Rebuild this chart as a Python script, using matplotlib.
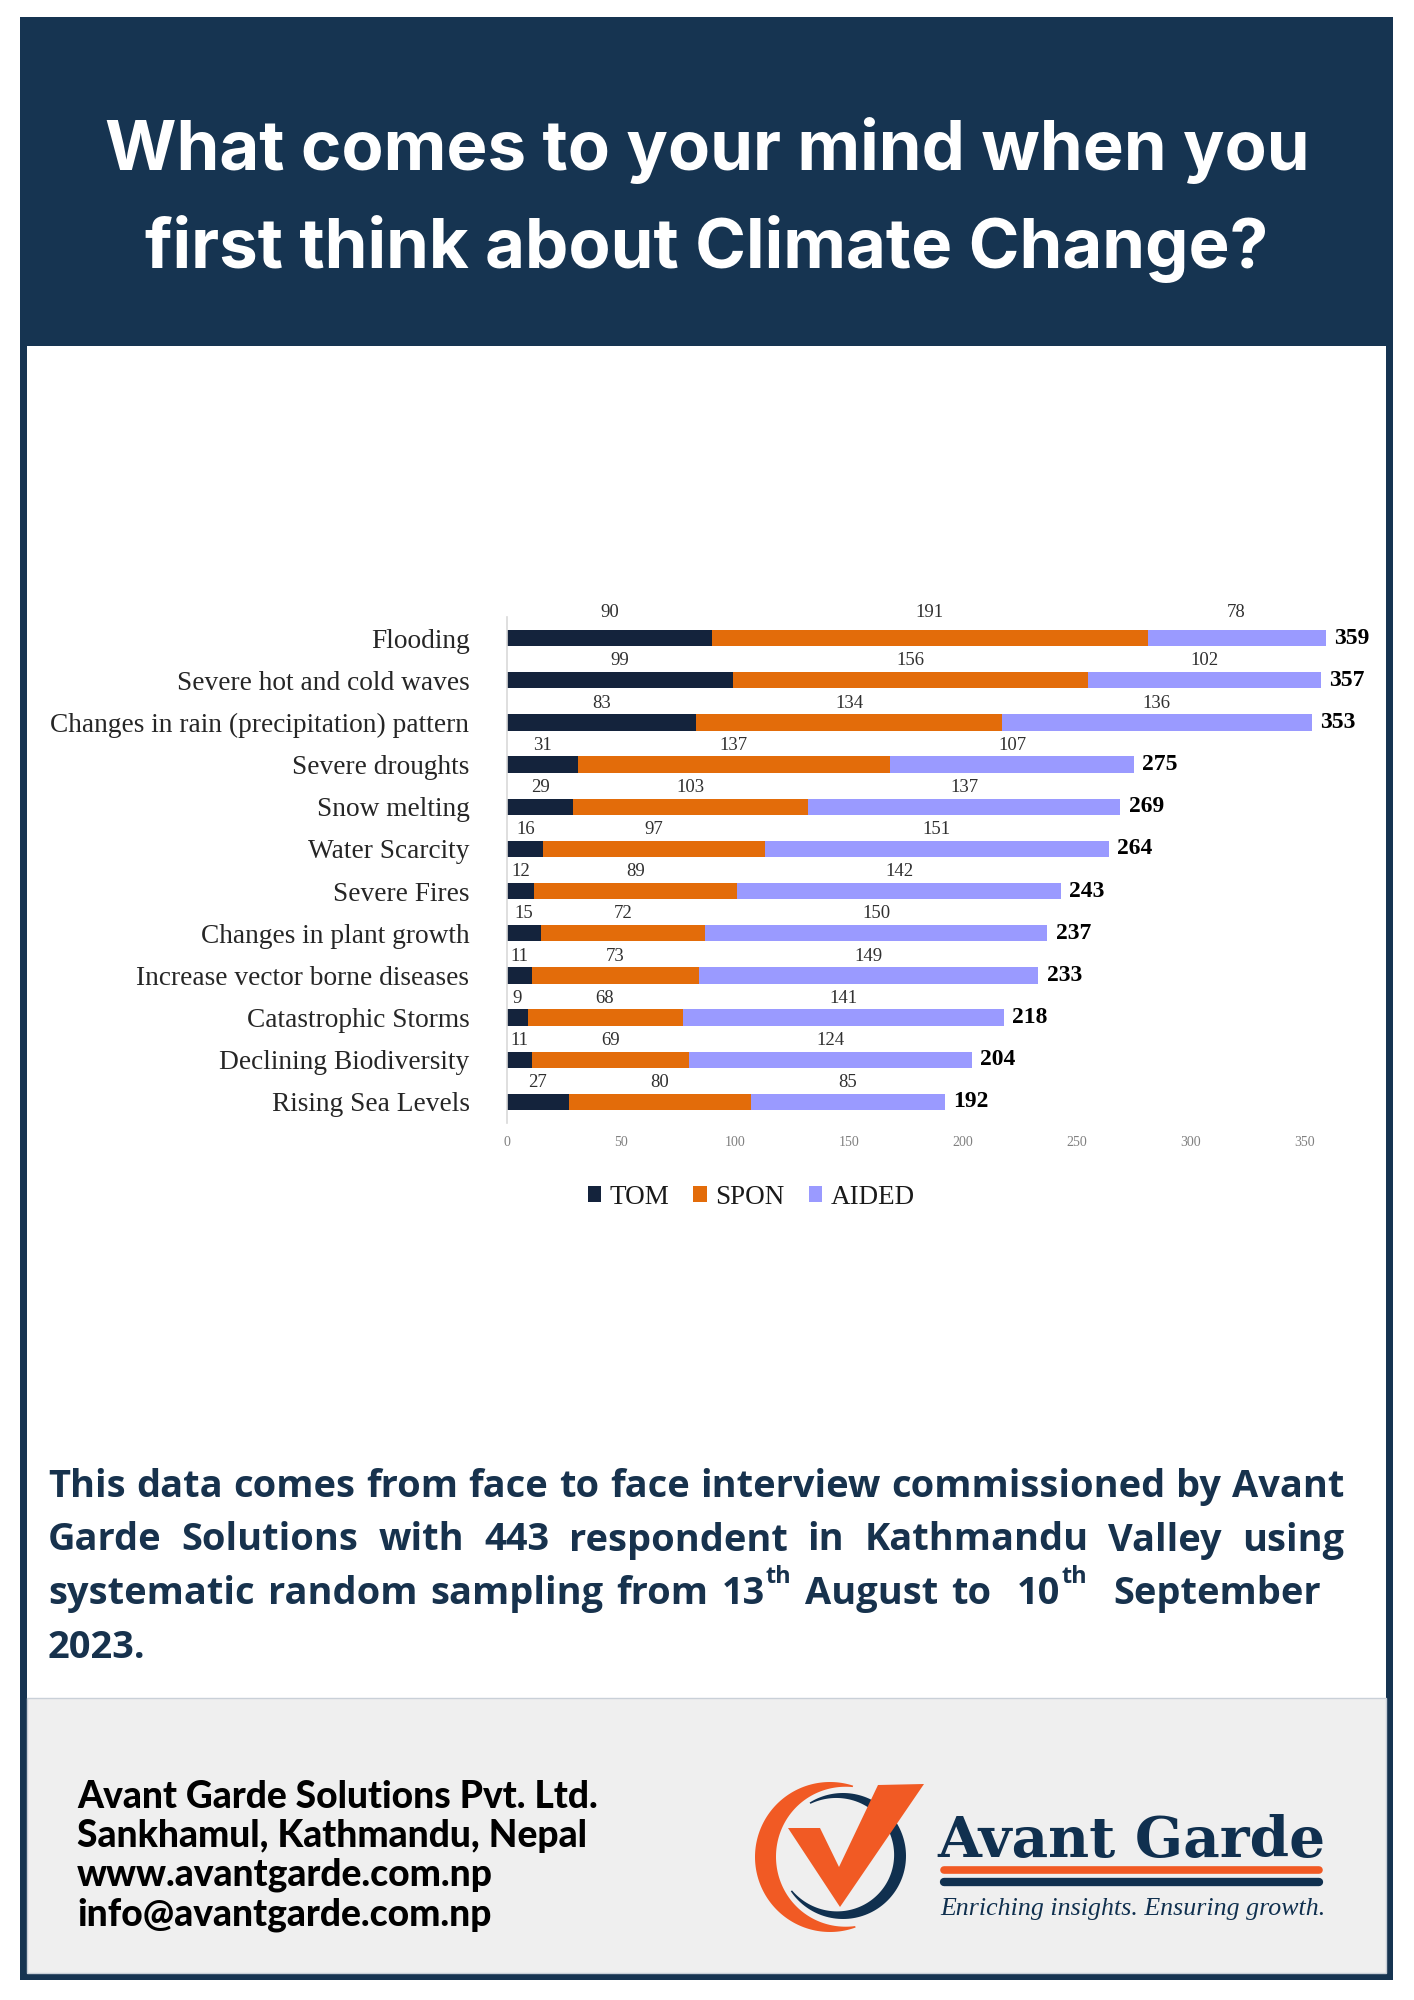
import matplotlib
matplotlib.use("Agg")
import matplotlib.pyplot as plt
import numpy as np
from matplotlib.patches import Rectangle, Polygon, Patch
from matplotlib.lines import Line2D

# ---------------- data ----------------
categories = ["Flooding", "Severe hot and cold waves",
              "Changes in rain (precipitation) pattern", "Severe droughts",
              "Snow melting", "Water Scarcity", "Severe Fires",
              "Changes in plant growth", "Increase vector borne diseases",
              "Catastrophic Storms", "Declining Biodiversity", "Rising Sea Levels"]
tom = [90, 99, 83, 31, 29, 16, 12, 15, 11, 9, 11, 27]
spon = [191, 156, 134, 137, 103, 97, 89, 72, 73, 68, 69, 80]
aided = [78, 102, 136, 107, 137, 151, 142, 150, 149, 141, 124, 85]
totals = [359, 357, 353, 275, 269, 264, 243, 237, 233, 218, 204, 192]
series_names = ["TOM", "SPON", "AIDED"]
xticks = [0, 50, 100, 150, 200, 250, 300, 350]

title_lines = ["What comes to your mind when you", "first think about Climate Change?"]
footer_lines = ["Avant Garde Solutions Pvt. Ltd.", "Sankhamul, Kathmandu, Nepal",
                "www.avantgarde.com.np", "info@avantgarde.com.np"]

# ---------------- styles ----------------
NAVY = "#163451"
C_TOM = "#14233c"
C_SPON = "#e36c0a"
C_AIDED = "#9a9aff"
LOGO_OR = "#f15a24"
LOGO_NV = "#10304f"
SERIF = "Liberation Serif"

W, H = 1414, 2000
fig = plt.figure(figsize=(W / 100, H / 100), dpi=100)
fig.patch.set_facecolor("white")
r = fig.canvas.get_renderer()

# background axes in pixel coordinates
bg = fig.add_axes([0, 0, 1, 1])
bg.set_xlim(0, W)
bg.set_ylim(H, 0)
bg.axis("off")

# frame
bg.add_patch(Rectangle((20, 17), 1373, 1963, facecolor=NAVY, edgecolor="none"))
bg.add_patch(Rectangle((27, 346), 1359, 1628, facecolor="white", edgecolor="none"))
bg.add_patch(Rectangle((27, 1698), 1359, 275, facecolor="#efefef", edgecolor="#c9d0d8", lw=1))


def fit_width(t, target):
    w = t.get_window_extent(r).width
    t.set_fontsize(t.get_fontsize() * target / w)


# title
tw = []
for line, yb in zip(title_lines, [170, 268]):
    tw.append(bg.text(707, yb, line, ha="center", va="baseline", color="white",
                      fontsize=48, fontweight="bold", family="Inter"))
fit_width(tw[0], 1204)
tw[1].set_fontsize(tw[0].get_fontsize())

# ---------------- chart ----------------
px_per_unit = 2.28
x0_px, ytop_px, ybot_px = 507, 617, 1123
xmax = 370
ax = fig.add_axes([x0_px / W, 1 - ybot_px / H, xmax * px_per_unit / W, (ybot_px - ytop_px) / H])
y = np.arange(len(categories))
bh = 0.39
left = np.zeros(len(categories))
colors = [C_TOM, C_SPON, C_AIDED]
for vals, c, name in zip([tom, spon, aided], colors, series_names):
    ax.barh(y, vals, left=left, height=bh, color=c, label=name, zorder=2)
    for yi, (l, v) in enumerate(zip(left, vals)):
        off = 0.6 if yi == 0 else 0.46
        ax.text(l + v / 2, yi - off, str(v), ha="center", va="center",
                fontsize=13.5, family=SERIF, color="#303030")
    left = left + np.array(vals)
for yi, (l, tot) in enumerate(zip(left, totals)):
    ax.annotate(str(tot), (l, yi), xytext=(6, 0), textcoords="offset points",
                ha="left", va="center", fontsize=17, fontweight="bold",
                family=SERIF, color="black")

ax.set_xlim(0, xmax)
ax.set_ylim(len(categories) - 0.5, -0.5)
ax.set_yticks(y)
ax.set_yticklabels(categories, family=SERIF, fontsize=19.7, color="#262626")
ax.set_xticks(xticks)
ax.set_xticklabels([str(v) for v in xticks], family=SERIF, fontsize=10, color="#808080")
ax.tick_params(axis="y", length=0, pad=27)
ax.tick_params(axis="x", length=0, pad=9)
for s in ["top", "right", "bottom"]:
    ax.spines[s].set_visible(False)
ax.spines["left"].set_color("#d9d9d9")
ax.spines["left"].set_linewidth(1.2)
ax.set_facecolor("none")

handles = [Patch(facecolor=c, edgecolor="none") for c in colors]
fig.legend(handles, series_names, loc="center", bbox_to_anchor=(751 / W, 1 - 1197 / H),
           ncol=3, frameon=False, handlelength=0.5, handleheight=0.5,
           handletextpad=0.3, columnspacing=0.9,
           prop={"family": SERIF, "size": 19.5}, labelcolor="#1a1a1a")

# ---------------- caption (justified) ----------------
CAP_COL = "#17324d"
probe = bg.text(0, 0, "This data comes from face to face interview commissioned by Avant",
                fontsize=28, fontweight="bold", family="Open Sans")
fit_width(probe, 1285)
cap_fs = probe.get_fontsize()
probe.remove()

cap_lines = [
    (["This", "data", "comes", "from", "face", "to", "face", "interview",
      "commissioned", "by", "Avant"], 1344),
    (["Garde", "Solutions", "with", "443", "respondent", "in", "Kathmandu",
      "Valley", "using"], 1344),
    (["systematic", "random", "sampling", "from", "13^th", "August", "to", "",
      "10^th", "", "September"], 1321),
    (["2023."], None),
]
x_left = 48
base0 = 1497
dy = 53.5
for li, (words, xr) in enumerate(cap_lines):
    yb = base0 + li * dy
    items = []
    for wd in words:
        if "^" in wd:
            main, sup = wd.split("^")
            t1 = bg.text(0, yb, main, ha="left", va="baseline", fontsize=cap_fs,
                         fontweight="bold", family="Open Sans", color=CAP_COL)
            t2 = bg.text(0, yb - 21, sup, ha="left", va="baseline", fontsize=cap_fs * 0.62,
                         fontweight="bold", family="Open Sans", color=CAP_COL)
            w1 = t1.get_window_extent(r).width
            w2 = t2.get_window_extent(r).width
            items.append(([(t1, 0), (t2, w1 + 1)], w1 + w2 + 1))
        elif wd == "":
            items.append(([], 0))
        else:
            t1 = bg.text(0, yb, wd, ha="left", va="baseline", fontsize=cap_fs,
                         fontweight="bold", family="Open Sans", color=CAP_COL)
            items.append(([(t1, 0)], t1.get_window_extent(r).width))
    total = sum(w for _, w in items)
    if xr is None or len(items) < 2:
        gap = 9
    else:
        gap = (xr - x_left - total) / (len(items) - 1)
    xc = x_left
    for parts, w in items:
        for t, off in parts:
            t.set_x(xc + off)
        xc += w + gap

# ---------------- footer ----------------
ftexts = []
for line, yb in zip(footer_lines, [1808, 1847, 1886, 1925]):
    ftexts.append(bg.text(77, yb, line, ha="left", va="baseline", fontsize=22,
                          fontweight="black", family="Lato", color="black"))
fit_width(ftexts[0], 520)
for t in ftexts[1:]:
    t.set_fontsize(ftexts[0].get_fontsize())


# ---------------- logo ----------------
def crescent(cx, cy, rout, a1, a2, thick, n=120, minth=1.5):
    a = np.linspace(np.radians(a1), np.radians(a2), n)
    s = np.sin(np.linspace(0, np.pi, n))
    th = minth + (thick - minth) * s
    outer = np.c_[cx + rout * np.cos(a), cy - rout * np.sin(a)]
    inner = np.c_[cx + (rout - th) * np.cos(a), cy - (rout - th) * np.sin(a)]
    return np.vstack([outer, inner[::-1]])


bg.add_patch(Polygon(crescent(830, 1857, 75, 72, 290, 21), closed=True,
                     facecolor=LOGO_OR, edgecolor="none"))
bg.add_patch(Polygon(crescent(843, 1856, 63, 122, -146, 12), closed=True,
                     facecolor=LOGO_NV, edgecolor="none"))
check = [(788, 1828), (820, 1828), (839, 1867), (878, 1785), (924, 1784), (840, 1907)]
bg.add_patch(Polygon(check, closed=True, facecolor=LOGO_OR, edgecolor="none"))

tlogo = bg.text(937, 1857, "Avant Garde", ha="left", va="baseline", fontsize=50,
                fontweight="bold", family="DejaVu Serif", color=LOGO_NV)
fit_width(tlogo, 388)
bg.add_line(Line2D([944, 1319], [1870, 1870], color=LOGO_OR, lw=5.5,
                   solid_capstyle="round"))
bg.add_line(Line2D([944, 1319], [1882, 1882], color=LOGO_NV, lw=6,
                   solid_capstyle="round"))
ttag = bg.text(940, 1915, "Enriching insights. Ensuring growth.", ha="left",
               va="baseline", fontsize=20, style="italic", family="Liberation Serif",
               color=LOGO_NV)
fit_width(ttag, 384)

fig.savefig("out.png", dpi=100)
